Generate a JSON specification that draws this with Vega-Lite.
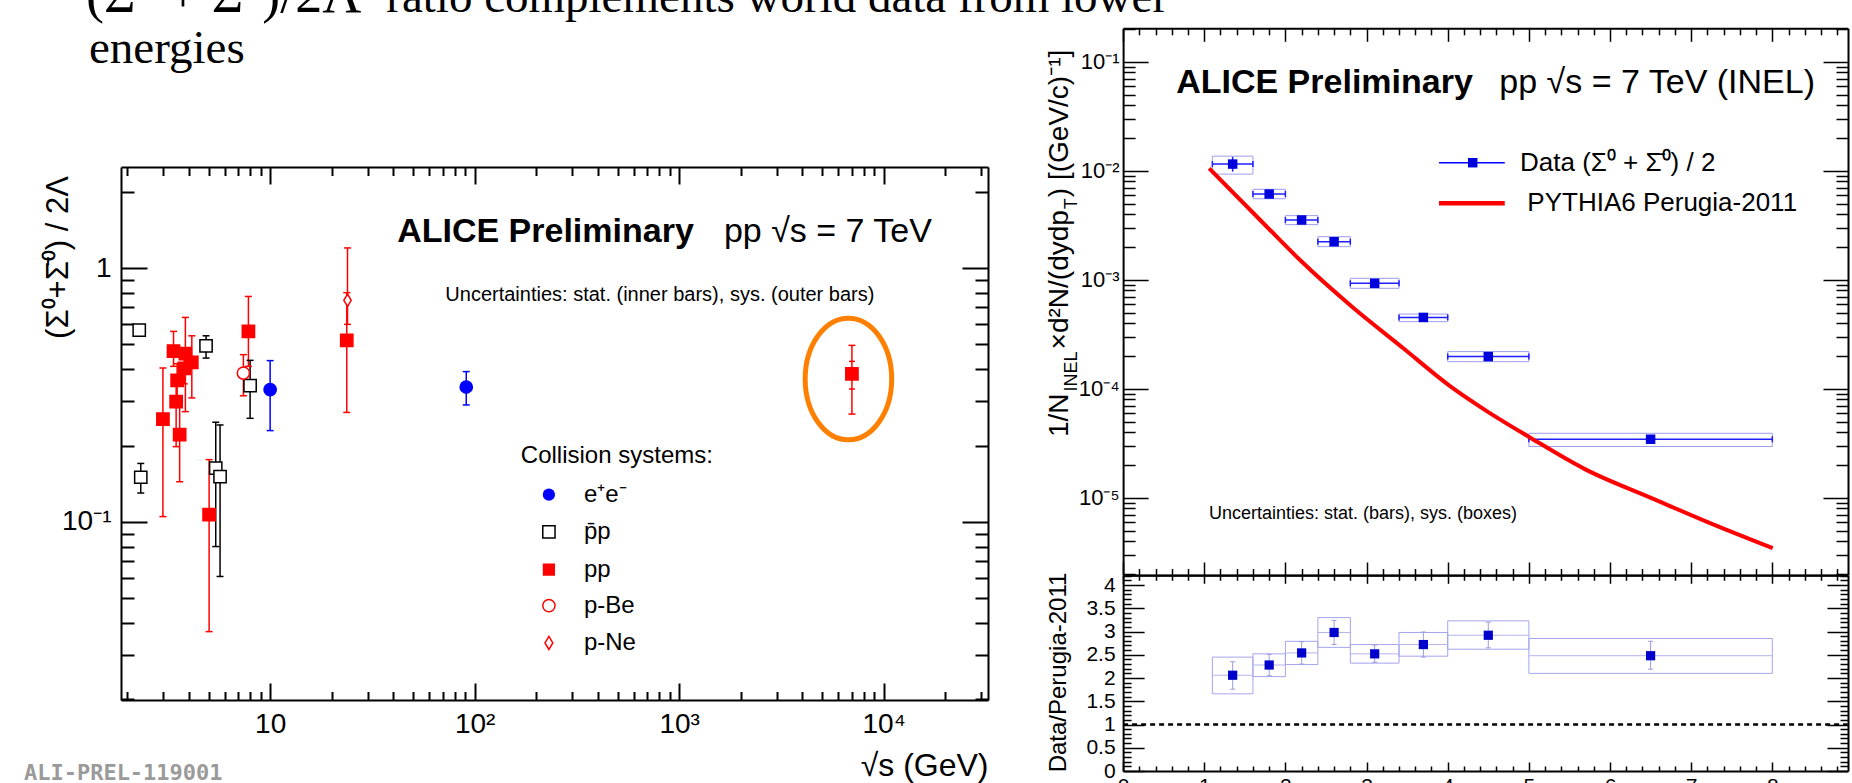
{
"$schema":"https://vega.github.io/schema/vega-lite/v6.json",
"width":1852,"height":783,"autosize":"none","padding":0,"background":"white",
"config":{"view":{"stroke":null},
 "axis":{"grid":false,"domainColor":"black","domainWidth":2,"tickColor":"black","tickWidth":1.5,"labelColor":"black","labelFont":"Liberation Sans","titleFont":"Liberation Sans","titleColor":"black","titleFontWeight":"normal","labelFlush":false,"labelOverlap":false,"labelBound":false,"labelAngle":0},
 "text":{"font":"Liberation Sans","color":"black"}},
"datasets":{
 "world":[
  {"sys":"p̄p","s":2.29,"r":0.570,"lo":0.548,"hi":0.592},
  {"sys":"p̄p","s":2.33,"r":0.150,"lo":0.130,"hi":0.170},
  {"sys":"p̄p","s":4.86,"r":0.494,"lo":0.442,"hi":0.541},
  {"sys":"p̄p","s":5.42,"r":0.163,"lo":0.080,"hi":0.247},
  {"sys":"p̄p","s":5.69,"r":0.151,"lo":0.061,"hi":0.241},
  {"sys":"p̄p","s":7.98,"r":0.344,"lo":0.256,"hi":0.433},
  {"sys":"e⁺e⁻","s":10.0,"r":0.332,"lo":0.229,"hi":0.432},
  {"sys":"e⁺e⁻","s":91.0,"r":0.340,"lo":0.289,"hi":0.391},
  {"sys":"pp","s":2.99,"r":0.254,"lo":0.105,"hi":0.404},
  {"sys":"pp","s":3.37,"r":0.471,"lo":0.41,"hi":0.563},
  {"sys":"pp","s":3.47,"r":0.298,"lo":0.198,"hi":0.37},
  {"sys":"pp","s":3.51,"r":0.361,"lo":0.31,"hi":0.42},
  {"sys":"pp","s":3.61,"r":0.221,"lo":0.144,"hi":0.30},
  {"sys":"pp","s":3.80,"r":0.403,"lo":0.35,"hi":0.46},
  {"sys":"pp","s":3.85,"r":0.46,"lo":0.272,"hi":0.639},
  {"sys":"pp","s":4.14,"r":0.425,"lo":0.308,"hi":0.541},
  {"sys":"pp","s":5.03,"r":0.107,"lo":0.037,"hi":0.176},
  {"sys":"pp","s":7.83,"r":0.563,"lo":0.41,"hi":0.773},
  {"sys":"pp","s":23.7,"r":0.519,"lo":0.27,"hi":0.80},
  {"sys":"pp","s":7000,"r":0.383,"lo":0.266,"hi":0.496,"slo":0.334,"shi":0.429},
  {"sys":"p-Be","s":7.40,"r":0.386,"lo":0.314,"hi":0.456},
  {"sys":"p-Ne","s":23.9,"r":0.746,"lo":0.60,"hi":1.20}
 ],
 "spec":[
  {"pt":1.35,"pl":1.1,"ph":1.6,"y":0.0115,"yl":0.0098,"yh":0.0134,"sl":0.0093,"sh":0.0136,"r":2.06,"rl":1.76,"rh":2.35,"rsl":1.66,"rsh":2.45},
  {"pt":1.8,"pl":1.6,"ph":2.0,"y":0.00611,"yl":0.0058,"yh":0.0065,"sl":0.00553,"sh":0.00675,"r":2.28,"rl":2.05,"rh":2.51,"rsl":2.03,"rsh":2.52},
  {"pt":2.2,"pl":2.0,"ph":2.4,"y":0.00353,"yl":0.0034,"yh":0.0037,"sl":0.0032,"sh":0.00387,"r":2.54,"rl":2.30,"rh":2.78,"rsl":2.29,"rsh":2.79},
  {"pt":2.6,"pl":2.4,"ph":2.8,"y":0.00223,"yl":0.00213,"yh":0.00233,"sl":0.00201,"sh":0.00248,"r":2.98,"rl":2.72,"rh":3.24,"rsl":2.66,"rsh":3.30},
  {"pt":3.1,"pl":2.8,"ph":3.4,"y":0.000927,"yl":0.00089,"yh":0.00097,"sl":0.000834,"sh":0.00103,"r":2.52,"rl":2.34,"rh":2.71,"rsl":2.32,"rsh":2.72},
  {"pt":3.7,"pl":3.4,"ph":4.0,"y":0.000451,"yl":0.00043,"yh":0.00047,"sl":0.000412,"sh":0.000484,"r":2.72,"rl":2.45,"rh":2.99,"rsl":2.47,"rsh":2.98},
  {"pt":4.5,"pl":4.0,"ph":5.0,"y":0.000197,"yl":0.000188,"yh":0.000207,"sl":0.000177,"sh":0.000219,"r":2.92,"rl":2.65,"rh":3.20,"rsl":2.62,"rsh":3.23},
  {"pt":6.5,"pl":5.0,"ph":8.0,"y":0.0000344,"yl":0.000032,"yh":0.000037,"sl":0.0000295,"sh":0.000039,"r":2.48,"rl":2.19,"rh":2.79,"rsl":2.10,"rsh":2.85}
 ],
 "pythia":[
  {"pt":1.061,"y":0.01052},{"pt":1.81,"y":0.002858},{"pt":2.18,"y":0.001515},{"pt":2.821,"y":0.000565},{"pt":3.453,"y":0.000235},{"pt":4.012,"y":0.000108},{"pt":4.462,"y":0.0000637},{"pt":4.998,"y":0.0000363},{"pt":5.696,"y":0.0000182},{"pt":6.518,"y":0.00000987},{"pt":7.339,"y":0.00000542},{"pt":8.005,"y":0.00000344}
 ]
},
"layer":[
 {
  "layer":[
   {"data":{"name":"world"},"mark":{"type":"rule","strokeWidth":1.5},
    "encoding":{
     "x":{"field":"s","type":"quantitative","scale":{"type":"log","domain":[1.865,32400],"range":[121,988],"nice":false},
      "axis":{"orient":"bottom","offset":-83,"values":[2,3,4,5,6,7,8,9,10,20,30,40,50,60,70,80,90,100,200,300,400,500,600,700,800,900,1000,2000,3000,4000,5000,6000,7000,8000,9000,10000,20000,30000],
       "labelExpr":"datum.value == 10 ? '10' : datum.value == 100 ? '10²' : datum.value == 1000 ? '10³' : datum.value == 10000 ? '10⁴' : ''",
       "tickSize":{"condition":{"test":"abs(log(datum.value)/LN10 - round(log(datum.value)/LN10)) < 0.000001","value":-17},"value":-8.5},
       "tickWidth":2,"labelFontSize":28,"labelPadding":27,
       "title":"√s (GeV)","titleFontSize":32,"titleX":988,"titleY":65,"titleAlign":"right","titleBaseline":"middle","titleAngle":0}},
     "y":{"field":"lo","type":"quantitative","scale":{"type":"log","domain":[0.0199,2.5],"range":[700,167],"nice":false},
      "axis":{"orient":"left","offset":-121,"values":[0.02,0.03,0.04,0.05,0.06,0.07,0.08,0.09,0.1,0.2,0.3,0.4,0.5,0.6,0.7,0.8,0.9,1,2],
       "labelExpr":"datum.value == 1 ? '1' : datum.value == 0.1 ? '10⁻¹' : ''",
       "tickSize":{"condition":{"test":"abs(log(datum.value)/LN10 - round(log(datum.value)/LN10)) < 0.000001","value":-26},"value":-13},
       "tickWidth":2,"labelFontSize":28,"labelPadding":36,
       "title":"(Σ⁰+Σ̄⁰) / 2Λ","titleFontSize":31,"titleX":-63,"titleY":257,"titleAngle":270,"titleAlign":"center","titleBaseline":"middle"}},
     "y2":{"field":"hi"},
     "stroke":{"field":"sys","type":"nominal","legend":null,"scale":{"domain":["e⁺e⁻","p̄p","pp","p-Be","p-Ne"],"range":["#0000ff","#000000","#ff0000","#ff0000","#ff0000"]}}}},
   {"data":{"name":"world"},"mark":{"type":"point","shape":"M-1,0L1,0","size":49,"strokeWidth":1.5,"filled":false,"opacity":1},
    "encoding":{
     "x":{"field":"s","type":"quantitative",
      "axis":{"orient":"top","offset":-167,"values":[2,3,4,5,6,7,8,9,10,20,30,40,50,60,70,80,90,100,200,300,400,500,600,700,800,900,1000,2000,3000,4000,5000,6000,7000,8000,9000,10000,20000,30000],"labels":false,"title":null,
       "tickSize":{"condition":{"test":"abs(log(datum.value)/LN10 - round(log(datum.value)/LN10)) < 0.000001","value":-17},"value":-8.5},"tickWidth":2}},
     "y":{"field":"lo","type":"quantitative",
      "axis":{"orient":"right","offset":-864,"values":[0.02,0.03,0.04,0.05,0.06,0.07,0.08,0.09,0.1,0.2,0.3,0.4,0.5,0.6,0.7,0.8,0.9,1,2],"labels":false,"title":null,
       "tickSize":{"condition":{"test":"abs(log(datum.value)/LN10 - round(log(datum.value)/LN10)) < 0.000001","value":-26},"value":-13},"tickWidth":2}},
     "stroke":{"field":"sys","type":"nominal","legend":null}}},
   {"data":{"name":"world"},"mark":{"type":"point","shape":"M-1,0L1,0","size":49,"strokeWidth":1.5,"filled":false,"opacity":1},
    "encoding":{"x":{"field":"s","type":"quantitative","axis":null},"y":{"field":"hi","type":"quantitative","axis":null},"stroke":{"field":"sys","type":"nominal","legend":null}}},
   {"data":{"name":"world"},"transform":[{"filter":"isValid(datum.slo)"}],"mark":{"type":"point","shape":"M-1,0L1,0","size":36,"strokeWidth":1.5,"filled":false,"opacity":1},
    "encoding":{"x":{"field":"s","type":"quantitative","axis":null},"y":{"field":"slo","type":"quantitative","axis":null},"stroke":{"field":"sys","type":"nominal","legend":null}}},
   {"data":{"name":"world"},"transform":[{"filter":"isValid(datum.shi)"}],"mark":{"type":"point","shape":"M-1,0L1,0","size":36,"strokeWidth":1.5,"filled":false,"opacity":1},
    "encoding":{"x":{"field":"s","type":"quantitative","axis":null},"y":{"field":"shi","type":"quantitative","axis":null},"stroke":{"field":"sys","type":"nominal","legend":null}}},
   {"data":{"name":"world"},"mark":{"type":"point","size":150,"strokeWidth":1.5,"opacity":1},
    "encoding":{"x":{"field":"s","type":"quantitative","axis":null},"y":{"field":"r","type":"quantitative","axis":null},
     "fill":{"field":"sys","type":"nominal","legend":null,"scale":{"domain":["e⁺e⁻","p̄p","pp","p-Be","p-Ne"],"range":["#0000ff","#ffffff","#ff0000","#ffffff","#ffffff"]}},
     "stroke":{"field":"sys","type":"nominal","legend":null},
     "shape":{"field":"sys","type":"nominal","legend":null,"scale":{"domain":["e⁺e⁻","p̄p","pp","p-Be","p-Ne"],"range":["circle","square","square","circle","M0,-1L0.6,0L0,1L-0.6,0Z"]}}}},
   {"data":{"values":[{}]},"mark":{"type":"text","text":"Collision systems:","fontSize":24,"align":"left","baseline":"middle"},
    "encoding":{"x":{"datum":168.3,"type":"quantitative","axis":null},"y":{"datum":0.1813,"type":"quantitative","axis":null}}},
   {"data":{"values":[{}]},"mark":{"type":"point","shape":"circle","size":150,"filled":true,"color":"#0000ff","opacity":1},
    "encoding":{"x":{"datum":230.8,"type":"quantitative","axis":null},"y":{"datum":0.1281,"type":"quantitative","axis":null}}},
   {"data":{"values":[{}]},"mark":{"type":"point","shape":"square","size":150,"fill":"#ffffff","stroke":"#000000","strokeWidth":1.5,"opacity":1},
    "encoding":{"x":{"datum":230.8,"type":"quantitative","axis":null},"y":{"datum":0.09134,"type":"quantitative","axis":null}}},
   {"data":{"values":[{}]},"mark":{"type":"point","shape":"square","size":150,"filled":true,"color":"#ff0000","opacity":1},
    "encoding":{"x":{"datum":230.8,"type":"quantitative","axis":null},"y":{"datum":0.06491,"type":"quantitative","axis":null}}},
   {"data":{"values":[{}]},"mark":{"type":"point","shape":"circle","size":150,"fill":"#ffffff","stroke":"#ff0000","strokeWidth":1.5,"opacity":1},
    "encoding":{"x":{"datum":230.8,"type":"quantitative","axis":null},"y":{"datum":0.04684,"type":"quantitative","axis":null}}},
   {"data":{"values":[{}]},"mark":{"type":"point","shape":"M0,-1L0.6,0L0,1L-0.6,0Z","size":170,"fill":"#ffffff","stroke":"#ff0000","strokeWidth":1.5,"opacity":1},
    "encoding":{"x":{"datum":230.8,"type":"quantitative","axis":null},"y":{"datum":0.03339,"type":"quantitative","axis":null}}},
   {"data":{"values":[{}]},"mark":{"type":"text","text":"e⁺e⁻","fontSize":24,"align":"left","baseline":"middle"},
    "encoding":{"x":{"datum":342.3,"type":"quantitative","axis":null},"y":{"datum":0.1281,"type":"quantitative","axis":null}}},
   {"data":{"values":[{}]},"mark":{"type":"text","text":"p̄p","fontSize":24,"align":"left","baseline":"middle"},
    "encoding":{"x":{"datum":342.3,"type":"quantitative","axis":null},"y":{"datum":0.09134,"type":"quantitative","axis":null}}},
   {"data":{"values":[{}]},"mark":{"type":"text","text":"pp","fontSize":24,"align":"left","baseline":"middle"},
    "encoding":{"x":{"datum":342.3,"type":"quantitative","axis":null},"y":{"datum":0.06491,"type":"quantitative","axis":null}}},
   {"data":{"values":[{}]},"mark":{"type":"text","text":"p-Be","fontSize":24,"align":"left","baseline":"middle"},
    "encoding":{"x":{"datum":342.3,"type":"quantitative","axis":null},"y":{"datum":0.04684,"type":"quantitative","axis":null}}},
   {"data":{"values":[{}]},"mark":{"type":"text","text":"p-Ne","fontSize":24,"align":"left","baseline":"middle"},
    "encoding":{"x":{"datum":342.3,"type":"quantitative","axis":null},"y":{"datum":0.03339,"type":"quantitative","axis":null}}},
   {"data":{"values":[{}]},"mark":{"type":"text","text":"ALICE   Preliminary","fontWeight":"bold","fontSize":34,"align":"left","baseline":"alphabetic"},
    "encoding":{"x":{"datum":41.8,"type":"quantitative","axis":null},"y":{"datum":1.269,"type":"quantitative","axis":null}}},
   {"data":{"values":[{}]},"mark":{"type":"text","text":"pp √s = 7 TeV","fontSize":34,"align":"left","baseline":"alphabetic"},
    "encoding":{"x":{"datum":1656,"type":"quantitative","axis":null},"y":{"datum":1.269,"type":"quantitative","axis":null}}},
   {"data":{"values":[{}]},"mark":{"type":"text","text":"Uncertainties: stat. (inner bars), sys. (outer bars)","fontSize":20,"align":"left","baseline":"alphabetic"},
    "encoding":{"x":{"datum":71.9,"type":"quantitative","axis":null},"y":{"datum":0.739,"type":"quantitative","axis":null}}},
   {"data":{"values":[{}]},"mark":{"type":"point","shape":"M0.711,0C0.711,0.5523,0.3927,1,0,1C-0.3927,1,-0.711,0.5523,-0.711,0C-0.711,-0.5523,-0.3927,-1,0,-1C0.3927,-1,0.711,-0.5523,0.711,0Z","size":14811,"filled":false,"stroke":"#ff8000","strokeWidth":5,"opacity":1},
    "encoding":{"x":{"datum":6730,"type":"quantitative","axis":null},"y":{"datum":0.3656,"type":"quantitative","axis":null}}},
   {"data":{"values":[{}]},"mark":{"type":"text","text":"(Σ⁰ + Σ̄⁰)/2Λ","font":"Liberation Serif","fontSize":54,"align":"left","baseline":"alphabetic"},
    "encoding":{"x":{"datum":1.257,"type":"quantitative","axis":null},"y":{"datum":10.21,"type":"quantitative","axis":null}}},
   {"data":{"values":[{}]},"mark":{"type":"text","text":"ratio complements world data from lower","font":"Liberation Serif","fontSize":47,"align":"left","baseline":"alphabetic"},
    "encoding":{"x":{"datum":36.97,"type":"quantitative","axis":null},"y":{"datum":10.21,"type":"quantitative","axis":null}}},
   {"data":{"values":[{}]},"mark":{"type":"text","text":"energies","font":"Liberation Serif","fontSize":47,"align":"left","baseline":"alphabetic"},
    "encoding":{"x":{"datum":1.30,"type":"quantitative","axis":null},"y":{"datum":6.43,"type":"quantitative","axis":null}}},
   {"data":{"values":[{}]},"mark":{"type":"text","text":"ALI-PREL-119001","font":"DejaVu Sans Mono","fontWeight":"bold","fontSize":22,"color":"#9a9a9a","align":"left","baseline":"alphabetic"},
    "encoding":{"x":{"datum":0.625,"type":"quantitative","axis":null},"y":{"datum":0.00967,"type":"quantitative","axis":null}}}
  ],
  "resolve":{"axis":{"x":"independent","y":"independent"}}
 },
 {
  "layer":[
   {"data":{"name":"spec"},"mark":{"type":"rect","filled":false,"color":"#9d9dee","strokeWidth":1},
    "encoding":{
     "x":{"field":"pl","type":"quantitative","scale":{"type":"linear","domain":[0,8.93],"range":[1123.1,1847.8],"nice":false,"zero":false},
      "axis":{"orient":"bottom","offset":-208,"values":[0,0.2,0.4,0.6,0.8,1,1.2,1.4,1.6,1.8,2,2.2,2.4,2.6,2.8,3,3.2,3.4,3.6,3.8,4,4.2,4.4,4.6,4.8,5,5.2,5.4,5.6,5.8,6,6.2,6.4,6.6,6.8,7,7.2,7.4,7.6,7.8,8,8.2,8.4,8.6,8.8],"labels":false,"title":null,
       "tickSize":{"condition":{"test":"datum.value == round(datum.value)","value":-13},"value":-6.5}}},
     "x2":{"field":"ph"},
     "y":{"field":"sl","type":"quantitative","scale":{"type":"log","domain":[1.954e-6,0.2025],"range":[575,28.3],"nice":false},
      "axis":{"orient":"left","offset":-1123.1,"values":[2e-6,3e-6,4e-6,5e-6,6e-6,7e-6,8e-6,9e-6,1e-5,2e-5,3e-5,4e-5,5e-5,6e-5,7e-5,8e-5,9e-5,1e-4,2e-4,3e-4,4e-4,5e-4,6e-4,7e-4,8e-4,9e-4,0.001,0.002,0.003,0.004,0.005,0.006,0.007,0.008,0.009,0.01,0.02,0.03,0.04,0.05,0.06,0.07,0.08,0.09,0.1,0.2],
       "labelExpr":"datum.value == 0.1 ? '10⁻¹' : datum.value == 0.01 ? '10⁻²' : datum.value == 0.001 ? '10⁻³' : datum.value == 0.0001 ? '10⁻⁴' : datum.value == 0.00001 ? '10⁻⁵' : ''",
       "tickSize":{"condition":{"test":"abs(log(datum.value)/LN10 - round(log(datum.value)/LN10)) < 0.000001","value":-25},"value":-12},
       "labelFontSize":22,"labelPadding":29,"title":null}},
     "y2":{"field":"sh"}}},
   {"data":{"name":"spec"},"mark":{"type":"rule","color":"#1e1eff","strokeWidth":1.5},
    "encoding":{
     "x":{"field":"pl","type":"quantitative",
      "axis":{"orient":"top","offset":-28.3,"values":[0,0.2,0.4,0.6,0.8,1,1.2,1.4,1.6,1.8,2,2.2,2.4,2.6,2.8,3,3.2,3.4,3.6,3.8,4,4.2,4.4,4.6,4.8,5,5.2,5.4,5.6,5.8,6,6.2,6.4,6.6,6.8,7,7.2,7.4,7.6,7.8,8,8.2,8.4,8.6,8.8],"labels":false,"title":null,
       "tickSize":{"condition":{"test":"datum.value == round(datum.value)","value":-13},"value":-6.5}}},
     "x2":{"field":"ph"},
     "y":{"field":"y","type":"quantitative",
      "axis":{"orient":"right","offset":-4,"values":[2e-6,3e-6,4e-6,5e-6,6e-6,7e-6,8e-6,9e-6,1e-5,2e-5,3e-5,4e-5,5e-5,6e-5,7e-5,8e-5,9e-5,1e-4,2e-4,3e-4,4e-4,5e-4,6e-4,7e-4,8e-4,9e-4,0.001,0.002,0.003,0.004,0.005,0.006,0.007,0.008,0.009,0.01,0.02,0.03,0.04,0.05,0.06,0.07,0.08,0.09,0.1,0.2],"labels":false,"title":null,
       "tickSize":{"condition":{"test":"abs(log(datum.value)/LN10 - round(log(datum.value)/LN10)) < 0.000001","value":-25},"value":-12}}}}},
   {"data":{"name":"spec"},"mark":{"type":"point","shape":"M0,-1L0,1","size":36,"strokeWidth":1.5,"filled":false,"color":"#1e1eff","opacity":1},
    "encoding":{"x":{"field":"pl","type":"quantitative","axis":null},"y":{"field":"y","type":"quantitative","axis":null}}},
   {"data":{"name":"spec"},"mark":{"type":"point","shape":"M0,-1L0,1","size":36,"strokeWidth":1.5,"filled":false,"color":"#1e1eff","opacity":1},
    "encoding":{"x":{"field":"ph","type":"quantitative","axis":null},"y":{"field":"y","type":"quantitative","axis":null}}},
   {"data":{"name":"spec"},"mark":{"type":"rule","color":"#1e1eff","strokeWidth":1.5},
    "encoding":{"x":{"field":"pt","type":"quantitative","axis":null},"y":{"field":"yl","type":"quantitative","axis":null},"y2":{"field":"yh"}}},
   {"data":{"name":"spec"},"mark":{"type":"point","shape":"square","size":90,"filled":true,"color":"#0000dd","opacity":1},
    "encoding":{"x":{"field":"pt","type":"quantitative","axis":null},"y":{"field":"y","type":"quantitative","axis":null}}},
   {"data":{"name":"pythia"},"mark":{"type":"line","color":"#ff0000","strokeWidth":4,"interpolate":"monotone"},
    "encoding":{"x":{"field":"pt","type":"quantitative","axis":null},"y":{"field":"y","type":"quantitative","axis":null}}},
   {"data":{"values":[{}]},"mark":{"type":"text","text":"1/N","fontSize":28,"angle":270,"align":"left","baseline":"alphabetic"},
    "encoding":{"x":{"datum":-0.679,"type":"quantitative","axis":null},"y":{"datum":0.00003605,"type":"quantitative","axis":null}}},
   {"data":{"values":[{}]},"mark":{"type":"text","text":"INEL","fontSize":18,"angle":270,"align":"left","baseline":"alphabetic"},
    "encoding":{"x":{"datum":-0.562,"type":"quantitative","axis":null},"y":{"datum":0.0000944,"type":"quantitative","axis":null}}},
   {"data":{"values":[{}]},"mark":{"type":"text","text":"×d²N/(dydp","fontSize":28,"angle":270,"align":"left","baseline":"alphabetic"},
    "encoding":{"x":{"datum":-0.679,"type":"quantitative","axis":null},"y":{"datum":0.0002295,"type":"quantitative","axis":null}}},
   {"data":{"values":[{}]},"mark":{"type":"text","text":"T","fontSize":18,"angle":270,"align":"left","baseline":"alphabetic"},
    "encoding":{"x":{"datum":-0.562,"type":"quantitative","axis":null},"y":{"datum":0.00444,"type":"quantitative","axis":null}}},
   {"data":{"values":[{}]},"mark":{"type":"text","text":") [(GeV/c)⁻¹]","fontSize":28,"angle":270,"align":"left","baseline":"alphabetic"},
    "encoding":{"x":{"datum":-0.679,"type":"quantitative","axis":null},"y":{"datum":0.00572,"type":"quantitative","axis":null}}},
   {"data":{"values":[{}]},"mark":{"type":"text","text":"ALICE   Preliminary","fontWeight":"bold","fontSize":34,"align":"left","baseline":"alphabetic"},
    "encoding":{"x":{"datum":0.654,"type":"quantitative","axis":null},"y":{"datum":0.0513,"type":"quantitative","axis":null}}},
   {"data":{"values":[{}]},"mark":{"type":"text","text":"pp √s = 7 TeV (INEL)","fontSize":34,"align":"left","baseline":"alphabetic"},
    "encoding":{"x":{"datum":4.636,"type":"quantitative","axis":null},"y":{"datum":0.0513,"type":"quantitative","axis":null}}},
   {"data":{"values":[{}]},"mark":{"type":"rule","color":"#0000ff","strokeWidth":1.5},
    "encoding":{"x":{"datum":3.893,"type":"quantitative","axis":null},"x2":{"datum":4.703},"y":{"datum":0.01184,"type":"quantitative","axis":null}}},
   {"data":{"values":[{}]},"mark":{"type":"point","shape":"square","size":90,"filled":true,"color":"#0000dd","opacity":1},
    "encoding":{"x":{"datum":4.308,"type":"quantitative","axis":null},"y":{"datum":0.01184,"type":"quantitative","axis":null}}},
   {"data":{"values":[{}]},"mark":{"type":"rule","color":"#ff0000","strokeWidth":4.5},
    "encoding":{"x":{"datum":3.893,"type":"quantitative","axis":null},"x2":{"datum":4.703},"y":{"datum":0.005022,"type":"quantitative","axis":null}}},
   {"data":{"values":[{}]},"mark":{"type":"text","text":"Data (Σ⁰ + Σ̄⁰) / 2","fontSize":26,"align":"left","baseline":"middle"},
    "encoding":{"x":{"datum":4.891,"type":"quantitative","axis":null},"y":{"datum":0.01184,"type":"quantitative","axis":null}}},
   {"data":{"values":[{}]},"mark":{"type":"text","text":"PYTHIA6 Perugia-2011","fontSize":26,"align":"left","baseline":"middle"},
    "encoding":{"x":{"datum":4.981,"type":"quantitative","axis":null},"y":{"datum":0.005022,"type":"quantitative","axis":null}}},
   {"data":{"values":[{}]},"mark":{"type":"text","text":"Uncertainties: stat. (bars), sys. (boxes)","fontSize":18,"align":"left","baseline":"alphabetic"},
    "encoding":{"x":{"datum":1.0585,"type":"quantitative","axis":null},"y":{"datum":0.00000638,"type":"quantitative","axis":null}}}
  ],
  "resolve":{"axis":{"x":"independent","y":"independent"}}
 },
 {
  "layer":[
   {"data":{"name":"spec"},"mark":{"type":"rect","filled":false,"color":"#a4a4ee","strokeWidth":1},
    "encoding":{
     "x":{"field":"pl","type":"quantitative","scale":{"type":"linear","domain":[0,8.93],"range":[1123.1,1847.8],"nice":false,"zero":false},
      "axis":{"orient":"bottom","offset":-12,"values":[0,0.2,0.4,0.6,0.8,1,1.2,1.4,1.6,1.8,2,2.2,2.4,2.6,2.8,3,3.2,3.4,3.6,3.8,4,4.2,4.4,4.6,4.8,5,5.2,5.4,5.6,5.8,6,6.2,6.4,6.6,6.8,7,7.2,7.4,7.6,7.8,8,8.2,8.4,8.6,8.8],
       "labelExpr":"datum.value == round(datum.value) ? format(datum.value, 'd') : ''",
       "tickSize":{"condition":{"test":"datum.value == round(datum.value)","value":-9},"value":-5},
       "labelFontSize":21,"labelPadding":13,"title":null}},
     "x2":{"field":"ph"},
     "y":{"field":"rsl","type":"quantitative","scale":{"type":"linear","domain":[0,4.21],"range":[771,575.3],"nice":false,"zero":false},
      "axis":{"orient":"left","offset":-1123.1,"values":[0,0.1,0.2,0.3,0.4,0.5,0.6,0.7,0.8,0.9,1,1.1,1.2,1.3,1.4,1.5,1.6,1.7,1.8,1.9,2,2.1,2.2,2.3,2.4,2.5,2.6,2.7,2.8,2.9,3,3.1,3.2,3.3,3.4,3.5,3.6,3.7,3.8,3.9,4,4.1,4.2],
       "labelExpr":"abs(datum.value*2 - round(datum.value*2)) < 0.000001 ? format(datum.value, '~g') : ''",
       "tickSize":{"condition":{"test":"abs(datum.value*2 - round(datum.value*2)) < 0.000001","value":-21},"value":-8},
       "labelFontSize":21,"labelPadding":29,
       "title":"Data/Perugia-2011","titleFontSize":24,"titleX":-65,"titleY":672,"titleAngle":270,"titleAlign":"center","titleBaseline":"middle"}},
     "y2":{"field":"rsh"}}},
   {"data":{"name":"spec"},"mark":{"type":"rule","color":"#b4b4ee","strokeWidth":1},
    "encoding":{
     "x":{"field":"pl","type":"quantitative",
      "axis":{"orient":"top","offset":-575.3,"values":[0,0.2,0.4,0.6,0.8,1,1.2,1.4,1.6,1.8,2,2.2,2.4,2.6,2.8,3,3.2,3.4,3.6,3.8,4,4.2,4.4,4.6,4.8,5,5.2,5.4,5.6,5.8,6,6.2,6.4,6.6,6.8,7,7.2,7.4,7.6,7.8,8,8.2,8.4,8.6,8.8],"labels":false,"title":null,
       "tickSize":{"condition":{"test":"datum.value == round(datum.value)","value":-8},"value":-5}}},
     "x2":{"field":"ph"},
     "y":{"field":"r","type":"quantitative",
      "axis":{"orient":"right","offset":-4,"values":[0,0.1,0.2,0.3,0.4,0.5,0.6,0.7,0.8,0.9,1,1.1,1.2,1.3,1.4,1.5,1.6,1.7,1.8,1.9,2,2.1,2.2,2.3,2.4,2.5,2.6,2.7,2.8,2.9,3,3.1,3.2,3.3,3.4,3.5,3.6,3.7,3.8,3.9,4,4.1,4.2],"labels":false,"title":null,
       "tickSize":{"condition":{"test":"abs(datum.value*2 - round(datum.value*2)) < 0.000001","value":-21},"value":-8}}}}},
   {"data":{"name":"spec"},"mark":{"type":"rule","color":"#9c9ce0","strokeWidth":1},
    "encoding":{"x":{"field":"pt","type":"quantitative","axis":null},"y":{"field":"rl","type":"quantitative","axis":null},"y2":{"field":"rh"}}},
   {"data":{"name":"spec"},"mark":{"type":"point","shape":"M-1,0L1,0","size":25,"strokeWidth":1,"filled":false,"color":"#9c9ce0","opacity":1},
    "encoding":{"x":{"field":"pt","type":"quantitative","axis":null},"y":{"field":"rl","type":"quantitative","axis":null}}},
   {"data":{"name":"spec"},"mark":{"type":"point","shape":"M-1,0L1,0","size":25,"strokeWidth":1,"filled":false,"color":"#9c9ce0","opacity":1},
    "encoding":{"x":{"field":"pt","type":"quantitative","axis":null},"y":{"field":"rh","type":"quantitative","axis":null}}},
   {"data":{"name":"spec"},"mark":{"type":"point","shape":"square","size":85,"filled":true,"color":"#0000cc","opacity":1},
    "encoding":{"x":{"field":"pt","type":"quantitative","axis":null},"y":{"field":"r","type":"quantitative","axis":null}}},
   {"data":{"values":[{}]},"mark":{"type":"rule","color":"black","strokeWidth":2.5,"strokeDash":[5,4]},
    "encoding":{"x":{"datum":0,"type":"quantitative","axis":null},"x2":{"datum":8.93},"y":{"datum":1,"type":"quantitative","axis":null}}}
  ],
  "resolve":{"axis":{"x":"independent","y":"independent"}}
 }
],
"resolve":{"scale":{"x":"independent","y":"independent"}}
}
